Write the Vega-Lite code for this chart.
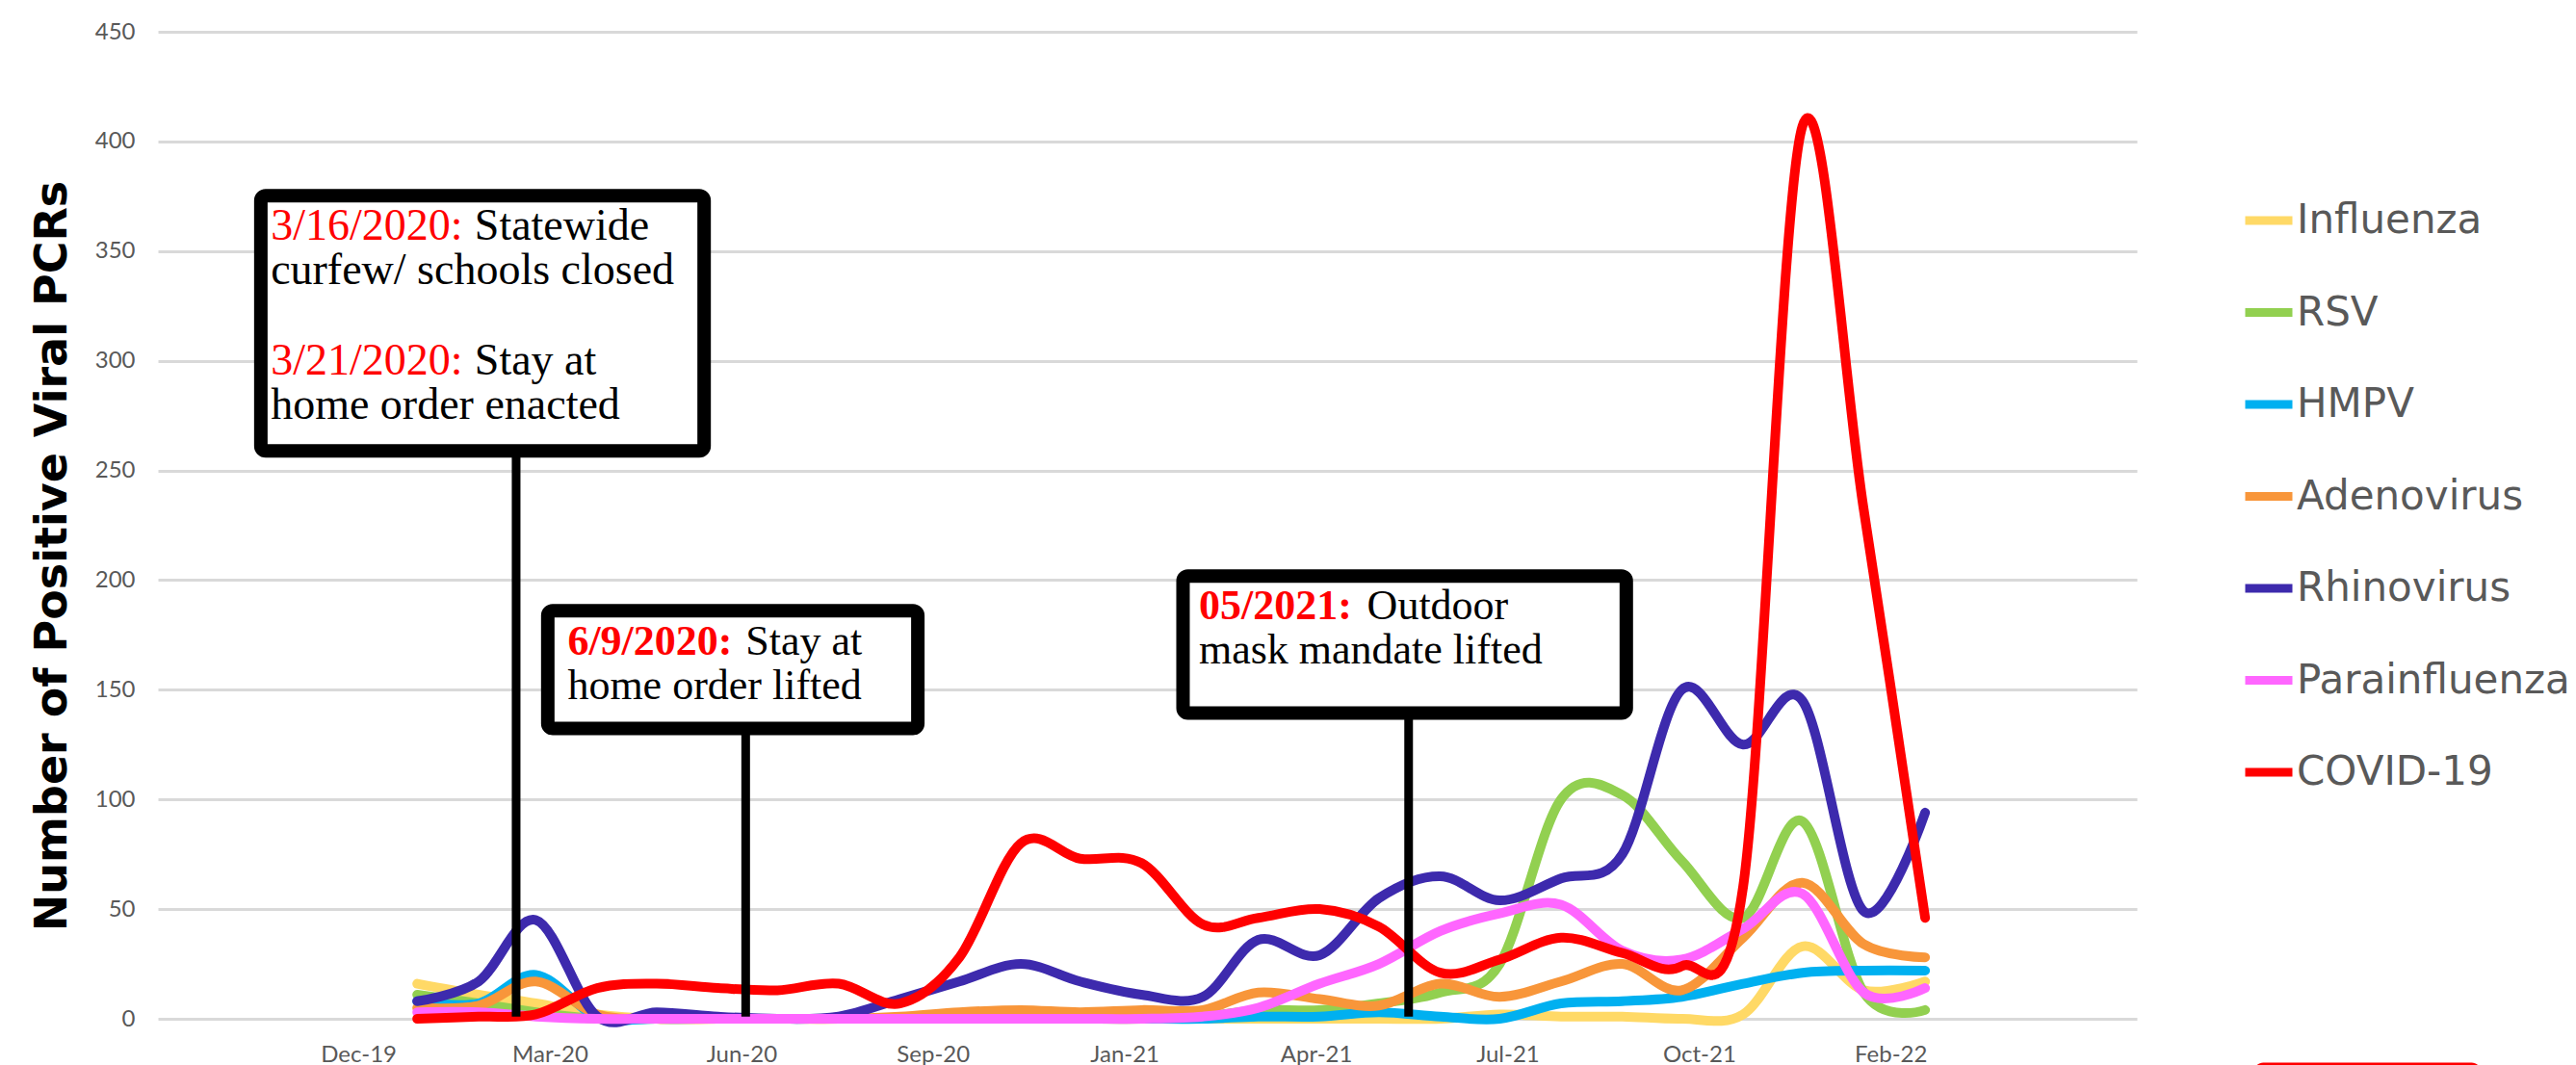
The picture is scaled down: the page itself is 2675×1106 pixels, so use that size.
{
  "$schema": "https://vega.github.io/schema/vega-lite/v6.json",
  "width": 2055,
  "height": 1025,
  "autosize": {"type": "none"},
  "padding": {"left": 164, "top": 33, "right": 456, "bottom": 48},
  "background": "white",
  "config": {"view": {"stroke": null}},
  "datasets": {
    "counts": [
      {"date": "2020-01-01", "Influenza": 16, "RSV": 11, "HMPV": 8, "Adenovirus": 5, "Rhinovirus": 8, "Parainfluenza": 3, "COVID-19": 0},
      {"date": "2020-02-01", "Influenza": 11, "RSV": 7, "HMPV": 7, "Adenovirus": 6, "Rhinovirus": 17, "Parainfluenza": 3, "COVID-19": 1},
      {"date": "2020-03-01", "Influenza": 7, "RSV": 3, "HMPV": 20, "Adenovirus": 17, "Rhinovirus": 45, "Parainfluenza": 1, "COVID-19": 2},
      {"date": "2020-04-01", "Influenza": 2, "RSV": 0, "HMPV": 1, "Adenovirus": 2, "Rhinovirus": 1, "Parainfluenza": 0, "COVID-19": 14},
      {"date": "2020-05-01", "Influenza": 0, "RSV": 0, "HMPV": 0, "Adenovirus": 0, "Rhinovirus": 3, "Parainfluenza": 0, "COVID-19": 16},
      {"date": "2020-06-01", "Influenza": 0, "RSV": 0, "HMPV": 0, "Adenovirus": 0, "Rhinovirus": 1, "Parainfluenza": 0, "COVID-19": 14},
      {"date": "2020-07-01", "Influenza": 0, "RSV": 0, "HMPV": 0, "Adenovirus": 0, "Rhinovirus": 0, "Parainfluenza": 0, "COVID-19": 13},
      {"date": "2020-08-01", "Influenza": 0, "RSV": 0, "HMPV": 0, "Adenovirus": 0, "Rhinovirus": 1, "Parainfluenza": 0, "COVID-19": 16},
      {"date": "2020-09-01", "Influenza": 0, "RSV": 0, "HMPV": 0, "Adenovirus": 1, "Rhinovirus": 9, "Parainfluenza": 0, "COVID-19": 7},
      {"date": "2020-10-01", "Influenza": 0, "RSV": 0, "HMPV": 0, "Adenovirus": 3, "Rhinovirus": 17, "Parainfluenza": 0, "COVID-19": 28},
      {"date": "2020-11-01", "Influenza": 0, "RSV": 0, "HMPV": 0, "Adenovirus": 4, "Rhinovirus": 25, "Parainfluenza": 0, "COVID-19": 80},
      {"date": "2020-12-01", "Influenza": 0, "RSV": 0, "HMPV": 0, "Adenovirus": 3, "Rhinovirus": 17, "Parainfluenza": 0, "COVID-19": 73},
      {"date": "2021-01-01", "Influenza": 0, "RSV": 0, "HMPV": 0, "Adenovirus": 4, "Rhinovirus": 11, "Parainfluenza": 0, "COVID-19": 71},
      {"date": "2021-02-01", "Influenza": 0, "RSV": 1, "HMPV": 0, "Adenovirus": 4, "Rhinovirus": 10, "Parainfluenza": 1, "COVID-19": 43},
      {"date": "2021-03-01", "Influenza": 0, "RSV": 4, "HMPV": 1, "Adenovirus": 12, "Rhinovirus": 36, "Parainfluenza": 5, "COVID-19": 46},
      {"date": "2021-04-01", "Influenza": 0, "RSV": 4, "HMPV": 1, "Adenovirus": 9, "Rhinovirus": 29, "Parainfluenza": 16, "COVID-19": 50},
      {"date": "2021-05-01", "Influenza": 0, "RSV": 7, "HMPV": 3, "Adenovirus": 6, "Rhinovirus": 55, "Parainfluenza": 25, "COVID-19": 42},
      {"date": "2021-06-01", "Influenza": 0, "RSV": 12, "HMPV": 1, "Adenovirus": 16, "Rhinovirus": 65, "Parainfluenza": 40, "COVID-19": 21},
      {"date": "2021-07-01", "Influenza": 2, "RSV": 25, "HMPV": 0, "Adenovirus": 10, "Rhinovirus": 54, "Parainfluenza": 48, "COVID-19": 27},
      {"date": "2021-08-01", "Influenza": 1, "RSV": 100, "HMPV": 7, "Adenovirus": 17, "Rhinovirus": 64, "Parainfluenza": 52, "COVID-19": 37},
      {"date": "2021-09-01", "Influenza": 1, "RSV": 102, "HMPV": 8, "Adenovirus": 25, "Rhinovirus": 75, "Parainfluenza": 31, "COVID-19": 30},
      {"date": "2021-10-01", "Influenza": 0, "RSV": 72, "HMPV": 10, "Adenovirus": 13, "Rhinovirus": 150, "Parainfluenza": 27, "COVID-19": 24},
      {"date": "2021-11-01", "Influenza": 2, "RSV": 46, "HMPV": 16, "Adenovirus": 37, "Rhinovirus": 125, "Parainfluenza": 41, "COVID-19": 60},
      {"date": "2021-12-01", "Influenza": 33, "RSV": 90, "HMPV": 21, "Adenovirus": 62, "Rhinovirus": 145, "Parainfluenza": 57, "COVID-19": 407},
      {"date": "2022-01-01", "Influenza": 13, "RSV": 12, "HMPV": 22, "Adenovirus": 34, "Rhinovirus": 49, "Parainfluenza": 12, "COVID-19": 232},
      {"date": "2022-02-01", "Influenza": 17, "RSV": 4, "HMPV": 22, "Adenovirus": 28, "Rhinovirus": 94, "Parainfluenza": 14, "COVID-19": 46}
    ],
    "boxes": [
      {"start": "2019-10-14", "end": "2020-05-25", "top": 375.3, "bottom": 258.9},
      {"start": "2020-03-07", "end": "2020-09-10", "top": 186.0, "bottom": 132.4},
      {"start": "2021-01-22", "end": "2021-09-03", "top": 201.8, "bottom": 139.4}
    ],
    "pointers": [
      {"at": "2020-02-20", "from": 258.9, "to": 1},
      {"at": "2020-06-15", "from": 132.4, "to": 1},
      {"at": "2021-05-16", "from": 139.4, "to": 1}
    ],
    "box1_dates": [
      {"at": "2019-10-19", "line": 355.3, "text": "3/16/2020:"},
      {"at": "2019-10-19", "line": 293.9, "text": "3/21/2020:"}
    ],
    "box1_notes": [
      {"at": "2020-01-30", "line": 355.3, "text": "Statewide"},
      {"at": "2019-10-19", "line": 335.1, "text": "curfew/ schools closed"},
      {"at": "2020-01-30", "line": 293.9, "text": "Stay at"},
      {"at": "2019-10-19", "line": 273.3, "text": "home order enacted"}
    ],
    "dates_bold": [
      {"at": "2020-03-17", "line": 165.8, "text": "6/9/2020:"},
      {"at": "2021-01-30", "line": 182.0, "text": "05/2021:"}
    ],
    "notes": [
      {"at": "2020-06-15", "line": 165.8, "text": "Stay at"},
      {"at": "2020-03-17", "line": 145.6, "text": "home order lifted"},
      {"at": "2021-04-25", "line": 182.0, "text": "Outdoor"},
      {"at": "2021-01-30", "line": 161.8, "text": "mask mandate lifted"}
    ],
    "badge": [
      {"start": "2022-07-17", "end": "2022-11-09", "top": -20, "bottom": -45}
    ]
  },
  "layer": [
    {
      "data": {"name": "counts"},
      "transform": [
        {"fold": ["Influenza", "RSV", "HMPV", "Adenovirus", "Rhinovirus", "Parainfluenza", "COVID-19"], "as": ["virus", "count"]}
      ],
      "mark": {"type": "line", "interpolate": "cardinal", "tension": 0, "strokeWidth": 10, "strokeCap": "round", "strokeJoin": "round"},
      "encoding": {
        "x": {
          "field": "date",
          "type": "temporal",
          "scale": {
            "type": "utc",
            "domain": [
              {"year": 2019, "month": 8, "date": 23, "utc": true},
              {"year": 2022, "month": 5, "date": 19, "utc": true}
            ]
          },
          "axis": {
            "values": [1575267696000, 1583630006400, 1591992316800, 1600354627200, 1608716937600, 1617079248000, 1625441558400, 1633803868800, 1642166179200],
            "labelExpr": "['Dec-19','Mar-20','Jun-20','Sep-20','Jan-21','Apr-21','Jul-21','Oct-21','Feb-22'][round((datum.value - 1575267696000) / 8362310400)]",
            "title": null,
            "domain": false,
            "ticks": false,
            "tickSize": 0,
            "grid": false,
            "labelFont": "Lato",
            "labelFontSize": 24,
            "labelColor": "#595959",
            "labelPadding": 25,
            "labelOverlap": false,
            "labelFlush": false
          }
        },
        "y": {
          "field": "count",
          "type": "quantitative",
          "scale": {"domain": [0, 450], "nice": false},
          "axis": {
            "values": [0, 50, 100, 150, 200, 250, 300, 350, 400, 450],
            "title": "Number of Positive Viral PCRs",
            "domain": false,
            "ticks": false,
            "tickSize": 0,
            "grid": true,
            "gridColor": "#D9D9D9",
            "gridWidth": 3,
            "labelFont": "Lato",
            "labelFontSize": 24,
            "labelColor": "#595959",
            "labelPadding": 24,
            "titleFont": "DejaVu Sans",
            "titleFontWeight": "bold",
            "titleFontSize": 46,
            "titleColor": "#000000",
            "titleX": -110,
            "titleY": 544,
            "titleAngle": -90,
            "titleAlign": "center",
            "titleBaseline": "middle"
          }
        },
        "color": {
          "field": "virus",
          "type": "nominal",
          "scale": {
            "domain": ["Influenza", "RSV", "HMPV", "Adenovirus", "Rhinovirus", "Parainfluenza", "COVID-19"],
            "range": ["#FFD966", "#92D050", "#00B0F0", "#F8963A", "#3D2AAD", "#FF66FF", "#FF0000"]
          },
          "legend": {
            "orient": "none",
            "legendX": 2163,
            "legendY": 167,
            "title": null,
            "symbolType": "stroke",
            "symbolStrokeWidth": 9,
            "symbolSize": 2401,
            "labelFont": "DejaVu Sans",
            "labelFontSize": 42,
            "labelColor": "#595959",
            "labelOffset": 0,
            "labelLimit": 0,
            "rowPadding": 45.5,
            "padding": 0
          }
        }
      }
    },
    {
      "data": {"name": "pointers"},
      "mark": {"type": "rule", "stroke": "#000000", "strokeWidth": 9},
      "encoding": {
        "x": {"field": "at", "type": "temporal", "scale": {"type": "utc"}},
        "y": {"field": "from", "type": "quantitative"},
        "y2": {"field": "to"}
      }
    },
    {
      "data": {"name": "boxes"},
      "mark": {"type": "rect", "fill": "#FFFFFF", "stroke": "#000000", "strokeWidth": 14, "cornerRadius": 5},
      "encoding": {
        "x": {"field": "start", "type": "temporal", "scale": {"type": "utc"}},
        "x2": {"field": "end"},
        "y": {"field": "top", "type": "quantitative"},
        "y2": {"field": "bottom"}
      }
    },
    {
      "data": {"name": "box1_dates"},
      "mark": {"type": "text", "font": "Liberation Serif", "fontSize": 46, "align": "left", "baseline": "alphabetic", "color": "#FF0000"},
      "encoding": {
        "x": {"field": "at", "type": "temporal", "scale": {"type": "utc"}},
        "y": {"field": "line", "type": "quantitative"},
        "text": {"field": "text"}
      }
    },
    {
      "data": {"name": "box1_notes"},
      "mark": {"type": "text", "font": "Liberation Serif", "fontSize": 46, "align": "left", "baseline": "alphabetic", "color": "#000000"},
      "encoding": {
        "x": {"field": "at", "type": "temporal", "scale": {"type": "utc"}},
        "y": {"field": "line", "type": "quantitative"},
        "text": {"field": "text"}
      }
    },
    {
      "data": {"name": "dates_bold"},
      "mark": {"type": "text", "font": "Liberation Serif", "fontSize": 44, "fontWeight": "bold", "align": "left", "baseline": "alphabetic", "color": "#FF0000"},
      "encoding": {
        "x": {"field": "at", "type": "temporal", "scale": {"type": "utc"}},
        "y": {"field": "line", "type": "quantitative"},
        "text": {"field": "text"}
      }
    },
    {
      "data": {"name": "notes"},
      "mark": {"type": "text", "font": "Liberation Serif", "fontSize": 44, "align": "left", "baseline": "alphabetic", "color": "#000000"},
      "encoding": {
        "x": {"field": "at", "type": "temporal", "scale": {"type": "utc"}},
        "y": {"field": "line", "type": "quantitative"},
        "text": {"field": "text"}
      }
    },
    {
      "data": {"name": "badge"},
      "mark": {"type": "rect", "fill": "#FF0000", "cornerRadius": 10},
      "encoding": {
        "x": {"field": "start", "type": "temporal", "scale": {"type": "utc"}},
        "x2": {"field": "end"},
        "y": {"field": "top", "type": "quantitative"},
        "y2": {"field": "bottom"}
      }
    }
  ]
}
